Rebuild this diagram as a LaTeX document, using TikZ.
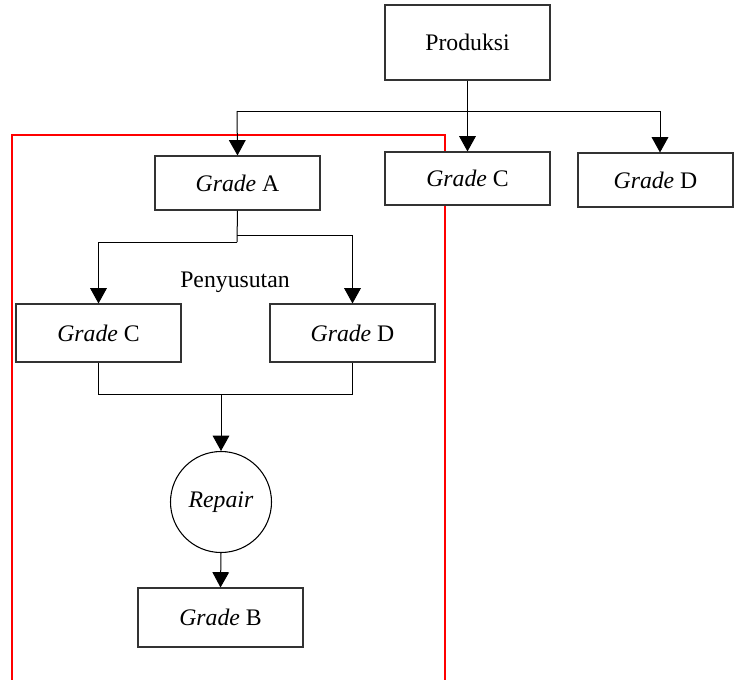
\documentclass[tikz,border=0pt]{standalone}
\usepackage{fontspec}
\setmainfont{Liberation Serif}
\usetikzlibrary{arrows.meta}
\begin{document}
\begin{tikzpicture}[x=0.75pt,y=-0.75pt,
  font=\fontsize{17.8}{21}\selectfont,
  box/.style={draw=black!80, line width=0.8pt, fill=white, rectangle, inner sep=0pt, minimum width=123.75pt},
  conn/.style={draw=black, line width=0.75pt},
  arr/.style={conn, -{Triangle[length=11.5pt,width=12.5pt]}},
  redframe/.style={draw=red, line width=1.6pt}]
\useasboundingbox (0,0) rectangle (736,679);
% red frame (open at bottom)
\draw[redframe] (12,680) -- (12,135) -- (445,135) -- (445,680);
% nodes
\node[box, minimum height=56.25pt] (prod) at (467.5,42.5) {Produksi};
\node[box, minimum height=39.75pt] (gc1) at (467.5,178.5) {\textit{Grade} C};
\node[box, minimum width=116.25pt, minimum height=40.5pt] (gd1) at (655.5,180) {\textit{Grade} D};
\node[box, minimum height=40.5pt] (ga) at (237.5,183) {\textit{Grade} A};
\node[box, minimum height=43.5pt] (gc2) at (98.5,333) {\textit{Grade} C};
\node[box, minimum height=43.5pt] (gd2) at (352.5,333) {\textit{Grade} D};
\node[draw=black, line width=0.8pt, circle, inner sep=0pt, minimum size=75.75pt] (rep) at (221,502) {\textit{Repair}};
\node[box, minimum height=44.25pt] (gb) at (220.5,617.5) {\textit{Grade} B};
\node (peny) at (235,282) {Penyusutan};
% top distribution
\coordinate (hl) at (237,111);
\coordinate (hm) at (467.5,111);
\coordinate (hr) at (660,111);
\draw[arr] (prod.south) -- (gc1.north);
\draw[conn] (hl) -- (hr);
\draw[arr] (hl) -- (ga.north);
\draw[arr] (hr) -- (hr |- gd1.north);
% Grade A split
\coordinate (al) at (237,242);
\coordinate (ar) at (237,235);
\draw[conn] (ga.south) -- (al);
\draw[arr] (al) -- (98.5,242) -- (gc2.north);
\draw[arr] (ar) -- (352.5,235) -- (gd2.north);
% merge
\coordinate (mm) at (221,394);
\draw[conn] (gc2.south) -- (98.5,394) -- (352.5,394) -- (gd2.south);
\draw[arr] (mm) -- (rep.north);
\draw[arr] (rep.south) -- (gb.north);
\end{tikzpicture}
\end{document}
